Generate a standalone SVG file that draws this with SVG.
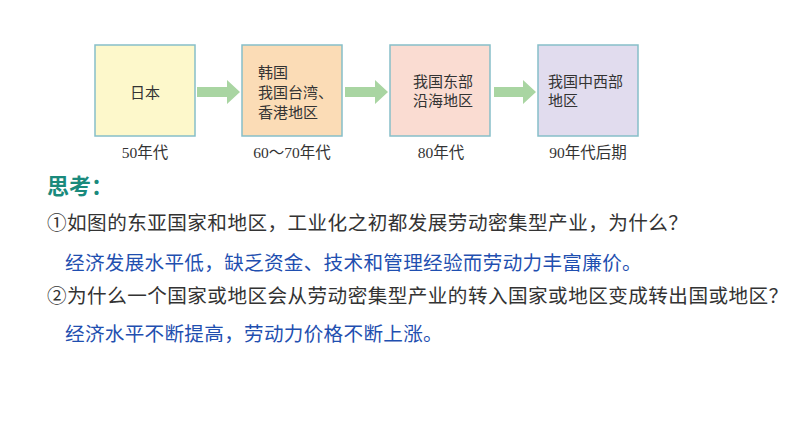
<svg xmlns="http://www.w3.org/2000/svg" width="794" height="447" viewBox="0 0 794 447">
<style>
.box{stroke:#86bfc9;stroke-width:1.5}
.bt{font-family:"Liberation Serif","Noto Sans CJK SC",serif;font-size:15px;fill:#333}
.lb{font-family:"Liberation Serif","Noto Sans CJK SC",serif;font-size:15.5px;fill:#333;text-anchor:middle}
.q{font-family:"Noto Sans CJK SC",sans-serif;font-size:19.6px;fill:#333;letter-spacing:0.45px}
.a{font-family:"Noto Sans CJK SC",sans-serif;font-size:19.6px;fill:#1f4fb0;letter-spacing:0.3px}
.arr{fill:#a9d5a2}
</style>
<rect width="794" height="447" fill="#fff"/>
<g id="connectors">
<polygon class="arr" points="197,87 227,87 227,80 240,92 227,104 227,97 197,97"/>
<polygon class="arr" points="345,87 375,87 375,80 388,92 375,104 375,97 345,97"/>
<polygon class="arr" points="494,87 523,87 523,80 536,92 523,104 523,97 494,97"/>
</g>
<g id="n1">
<rect class="box" x="95" y="45" width="100" height="91" fill="#fdf8cb"/>
<text class="bt" x="145" y="98" text-anchor="middle">日本</text>
<text class="lb" x="145" y="158">50年代</text>
</g>
<g id="n2">
<rect class="box" x="242" y="45" width="100" height="91" fill="#fbdcb6"/>
<text class="bt" x="258" y="78">韩国</text>
<text class="bt" x="258" y="98">我国台湾、</text>
<text class="bt" x="258" y="118">香港地区</text>
<text class="lb" x="292" y="158">60～70年代</text>
</g>
<g id="n3">
<rect class="box" x="390" y="45" width="100" height="91" fill="#fadcd2"/>
<text class="bt" x="413" y="87">我国东部</text>
<text class="bt" x="413" y="106">沿海地区</text>
<text class="lb" x="441" y="158">80年代</text>
</g>
<g id="n4">
<rect class="box" x="538" y="45" width="100" height="91" fill="#e1dcee"/>
<text class="bt" x="548" y="87">我国中西部</text>
<text class="bt" x="548" y="106">地区</text>
<text class="lb" x="588" y="158">90年代后期</text>
</g>
<g id="text">
<text x="47" y="194" font-family="Noto Sans CJK SC,sans-serif" font-size="22" font-weight="bold" fill="#1a8a7c">思考：</text>
<text class="q" x="47" y="229.5">①如图的东亚国家和地区，工业化之初都发展劳动密集型产业，为什么？</text>
<text class="a" x="65" y="269.5">经济发展水平低，缺乏资金、技术和管理经验而劳动力丰富廉价。</text>
<text class="q" x="47" y="302.5">②为什么一个国家或地区会从劳动密集型产业的转入国家或地区变成转出国或地区？</text>
<text class="a" x="65" y="340.5">经济水平不断提高，劳动力价格不断上涨。</text>
</g>
</svg>
